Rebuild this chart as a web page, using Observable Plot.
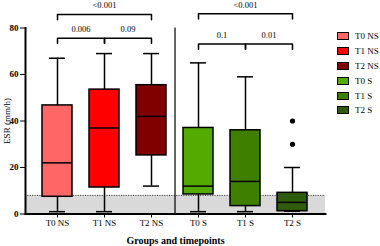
<!DOCTYPE html>
<html>
<head>
<meta charset="utf-8">
<script src="https://cdn.jsdelivr.net/npm/d3@7"></script>
<script src="https://cdn.jsdelivr.net/npm/@observablehq/plot@0.6"></script>
<style>
  body { margin: 0; background: #fff; }
  #chart { position: relative; width: 380px; height: 246px; }
  #chart svg, #chart svg text { font-family: "Liberation Serif", serif !important; }
  #legend { position: absolute; left: 337px; top: 29px; }
  #legend, #legend * { font-family: "Liberation Serif", serif !important; font-size: 9px !important; color: #000; }
  #legend .leg-row { display: flex; align-items: center; height: 14.8px; }
  #legend .leg-sw { width: 10px; height: 6px; border: 1.6px solid #000; margin-right: 6px; }
</style>
</head>
<body>
<div id="chart"><div id="legend"></div></div>
<script>
// Groups (non-smokers NS / smokers S at three timepoints)
const groups = ["T0 NS", "T1 NS", "T2 NS", "T0 S", "T1 S", "T2 S"];
const colors = ["#ff6666", "#ff0000", "#800000", "#55aa00", "#3f7f00", "#2e5b0c"];

// Box-plot summary per group (ESR, mm/h)
const whiskerLow  = [1, 1, 12, 1, 1, 1.2];
const quart1      = [7.4, 11.4, 25.2, 8.4, 3.4, 1.2];
const medians     = [22, 37, 42, 12, 14, 5];
const quart3      = [46.7, 53.5, 55.4, 37, 36, 9.1];
const whiskerHigh = [67, 69, 69, 65, 59, 20];

// Outlying observations
const outlierGroup = ["T2 S", "T2 S"];
const outlierValue = [30, 40];

// Upper limit of the normal ESR range
const normalUpper = 8;

// Pairwise comparisons (p-values) and bracket level in ESR units
const cmpFrom  = ["T0 NS", "T0 NS", "T1 NS", "T0 S", "T0 S", "T1 S"];
const cmpTo    = ["T2 NS", "T1 NS", "T2 NS", "T2 S", "T1 S", "T2 S"];
const cmpLabel = ["<0.001", "0.006", "0.09", "<0.001", "0.1", "0.01"];
const cmpLevel = [85.8, 75.6, 75.6, 86.1, 73.1, 73.1];

const rows = groups.map((g, i) => ({
  group: g, lo: whiskerLow[i], q1: quart1[i], med: medians[i], q3: quart3[i], hi: whiskerHigh[i]
}));
const outliers = outlierGroup.map((g, i) => ({group: g, value: outlierValue[i]}));

const width = 380, height = 246;
const marginLeft = 25, marginRight = 55, marginTop = 27.5, marginBottom = 32.5;
const padIn = 0.36, padOut = 0.37;
const step = (width - marginLeft - marginRight) / (groups.length - padIn + 2 * padOut);

const legLen = 2.2, labelGap = 3.8;
const comparisons = cmpFrom.map((f, i) => ({
  from: f, to: cmpTo[i], label: cmpLabel[i], level: cmpLevel[i],
  span: groups.indexOf(cmpTo[i]) - groups.indexOf(f)
}));
// bracket paths: leg down at each end, bar across the top
const bracketPts = comparisons.flatMap((c, i) => [
  {k: i, x: c.from, y: c.level - legLen},
  {k: i, x: c.from, y: c.level},
  {k: i, x: c.to, y: c.level},
  {k: i, x: c.to, y: c.level - legLen}
]);

const plot = Plot.plot({
  width, height, marginLeft, marginRight, marginTop, marginBottom,
  style: {fontSize: "9px", color: "#000", background: "transparent", overflow: "visible"},
  x: {type: "band", domain: groups, paddingInner: padIn, paddingOuter: padOut},
  y: {domain: [0, 80]},
  color: {domain: groups, range: colors},
  marks: [
    // normal range band and its dotted upper limit
    Plot.rectY([normalUpper], {y1: 0, y2: d => d, fill: "#d9d9d9"}),
    Plot.ruleY([normalUpper], {stroke: "#333", strokeDasharray: "1,1.4", strokeWidth: 1}),
    // separator between NS and S groups
    Plot.ruleX(["T2 NS"], {y1: 0, y2: 80, dx: step / 2, stroke: "#000", strokeWidth: 1.2}),
    // whiskers and caps
    Plot.ruleX(rows, {x: "group", y1: "lo", y2: "q1", stroke: "#000", strokeWidth: 1.5}),
    Plot.ruleX(rows, {x: "group", y1: "q3", y2: "hi", stroke: "#000", strokeWidth: 1.5}),
    Plot.tickY(rows, {x: "group", y: "lo", insetLeft: 7, insetRight: 7, stroke: "#000", strokeWidth: 1.5}),
    Plot.tickY(rows, {x: "group", y: "hi", insetLeft: 7, insetRight: 7, stroke: "#000", strokeWidth: 1.5}),
    // boxes and medians
    Plot.barY(rows, {x: "group", y1: "q1", y2: "q3", fill: "group", stroke: "#000", strokeWidth: 1.5}),
    Plot.tickY(rows, {x: "group", y: "med", stroke: "#000", strokeWidth: 1.5}),
    Plot.dot(outliers, {x: "group", y: "value", r: 2.6, fill: "#000", stroke: "none"}),
    // axes
    Plot.axisY({ticks: [0, 20, 40, 60, 80], tickSize: 5, tickPadding: 2, fontWeight: "bold", fill: "#000",
      label: "ESR (mm/h)", labelAnchor: "center", labelArrow: "none", labelOffset: 22}),
    Plot.axisX({tickSize: 4, tickPadding: 2, fill: "#000", label: "Groups and timepoints", labelAnchor: "center", labelArrow: "none", labelOffset: 30}),
    Plot.frame({anchor: "left", stroke: "#000", strokeWidth: 2}),
    Plot.frame({anchor: "bottom", stroke: "#000", strokeWidth: 2}),
    // significance brackets
    Plot.line(bracketPts, {x: "x", y: "y", z: "k", stroke: "#000", strokeWidth: 1.5, clip: false}),
    Plot.text(comparisons, {x: "from", y: d => d.level + labelGap, text: "label", fill: "#000", fontSize: 8.5, clip: false})
  ]
});

// center each p-value over its bracket
plot.querySelectorAll('g[aria-label="text"] text').forEach((t, i) => {
  const c = comparisons[i];
  t.setAttribute("x", (+t.getAttribute("x") || 0) + c.span * step / 2);
});
// y-axis label is regular weight; x-axis title is bold
const yl = plot.querySelector('g[aria-label="y-axis label"] text');
if (yl) yl.setAttribute("font-weight", "normal");
const xl = plot.querySelector('g[aria-label="x-axis label"] text');
if (xl) { xl.setAttribute("font-weight", "bold"); xl.setAttribute("font-size", "10"); }

document.getElementById("chart").prepend(plot);

// legend built from the plot's own color scale
const color = plot.scale("color");
const legendEl = document.getElementById("legend");
color.domain.forEach((g, i) => {
  const row = document.createElement("div");
  row.className = "leg-row";
  const sw = document.createElement("div");
  sw.className = "leg-sw";
  sw.style.background = color.range[i];
  const lab = document.createElement("span");
  lab.textContent = g;
  row.append(sw, lab);
  legendEl.appendChild(row);
});
</script>
</body>
</html>
